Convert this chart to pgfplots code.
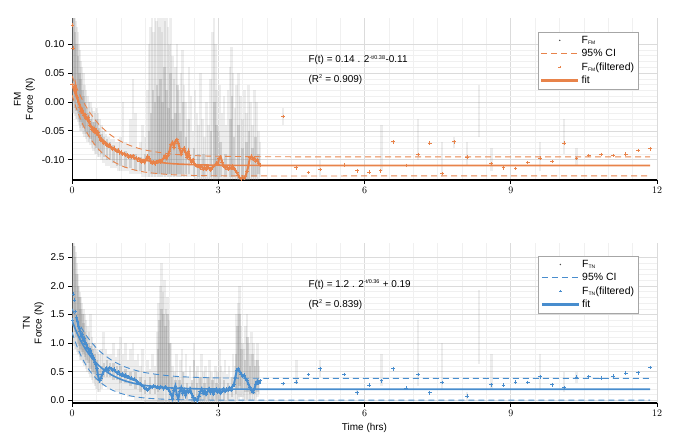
\documentclass[border=0pt]{standalone}
\usepackage{pgfplots}
\pgfplotsset{compat=1.18}
\usepackage{pgfplotstable}
\usepackage{fontspec}
\setmainfont{Liberation Sans}
\definecolor{orng}{RGB}{232,131,74}
\definecolor{blu}{RGB}{72,141,206}
\definecolor{raw}{RGB}{140,140,140}

% ---------- TOP (FM) ----------
\pgfplotstableread{
t lo hi
0.00 -0.02 0.145
0.02 -0.02 0.145
0.04 -0.02 0.145
0.06 -0.025 0.145
0.08 -0.03 0.14
0.10 -0.03 0.13
0.12 -0.035 0.12
0.14 -0.04 0.10
0.16 -0.045 0.09
0.18 -0.05 0.07
0.20 -0.05 0.06
0.23 -0.055 0.05
0.26 -0.06 0.03
0.29 -0.065 0.02
0.32 -0.07 0.01
0.35 -0.07 0.00
0.38 -0.075 0.0
0.41 -0.08 -0.01
0.44 -0.085 -0.015
0.47 -0.09 -0.02
0.50 -0.09 -0.01
0.53 -0.095 -0.02
0.56 -0.095 -0.03
0.60 -0.10 -0.04
0.65 -0.105 -0.05
0.70 -0.11 -0.055
0.75 -0.11 -0.06
0.80 -0.115 -0.065
0.85 -0.115 -0.065
0.90 -0.115 -0.07
0.95 -0.12 -0.07
1.00 -0.12 -0.06
1.05 -0.12 0.00
1.10 -0.12 -0.07
1.15 -0.12 -0.075
1.20 -0.125 -0.03
1.25 -0.125 0.04
1.30 -0.125 -0.02
1.35 -0.125 -0.08
1.40 -0.125 -0.07
1.45 -0.13 -0.04
1.50 -0.13 -0.06
1.55 -0.13 0.02
1.58 -0.13 0.10
1.61 -0.13 0.13
1.64 -0.13 0.145
1.67 -0.13 0.12
1.70 -0.13 0.145
1.73 -0.13 0.14
1.76 -0.13 0.145
1.79 -0.13 0.13
1.82 -0.13 0.145
1.85 -0.13 0.12
1.88 -0.13 0.145
1.91 -0.13 0.14
1.94 -0.13 0.145
1.97 -0.13 0.13
2.00 -0.13 0.10
2.03 -0.13 0.145
2.06 -0.13 0.08
2.09 -0.13 0.04
2.12 -0.13 0.06
2.15 -0.13 0.10
2.18 -0.13 0.02
2.21 -0.13 -0.02
2.24 -0.13 0.05
2.27 -0.13 0.09
2.30 -0.13 0.03
2.33 -0.13 0.00
2.36 -0.13 -0.03
2.40 -0.13 0.06
2.44 -0.13 0.01
2.48 -0.13 -0.05
2.52 -0.135 0.02
2.56 -0.135 -0.02
2.60 -0.135 -0.04
2.64 -0.135 0.05
2.68 -0.135 -0.03
2.72 -0.135 -0.06
2.76 -0.135 0.00
2.80 -0.135 -0.04
2.84 -0.135 0.04
2.88 -0.135 0.12
2.91 -0.135 0.145
2.94 -0.135 0.10
2.97 -0.135 0.02
3.00 -0.135 -0.05
3.04 -0.135 0.03
3.08 -0.135 -0.02
3.12 -0.135 0.01
3.16 -0.135 -0.04
3.20 -0.135 0.02
3.24 -0.135 0.06
3.27 -0.135 0.095
3.30 -0.135 0.05
3.34 -0.135 -0.01
3.38 -0.135 0.03
3.42 -0.135 0.05
3.46 -0.135 0.01
3.50 -0.135 -0.03
3.54 -0.135 0.02
3.58 -0.135 -0.02
3.62 -0.135 0.03
3.66 -0.135 0.00
3.70 -0.135 -0.04
3.74 -0.135 0.02
3.78 -0.135 0.00
3.82 -0.135 -0.05
3.86 -0.13 -0.07
4.33 -0.04 -0.01
5.09 -0.13 -0.10
6.35 -0.12 -0.04
7.10 -0.10 -0.03
7.59 -0.13 -0.07
7.84 -0.08 -0.06
8.10 -0.11 -0.07
8.35 -0.06 0.03
8.60 -0.12 -0.08
9.60 -0.12 -0.07
10.09 -0.09 -0.03
10.35 -0.11 -0.08
}\topfaint

\pgfplotstableread{
t lo hi
0.00 0.0 0.145
0.03 0.0 0.145
0.06 -0.01 0.12
0.09 -0.015 0.10
0.12 -0.02 0.08
0.15 -0.03 0.05
0.18 -0.035 0.04
0.21 -0.04 0.02
0.24 -0.045 0.01
0.27 -0.05 0.0
0.30 -0.055 -0.01
0.34 -0.06 -0.02
0.38 -0.065 -0.03
0.42 -0.07 -0.035
0.46 -0.075 -0.035
0.50 -0.08 -0.03
0.55 -0.085 -0.045
0.60 -0.09 -0.055
0.66 -0.095 -0.06
0.72 -0.10 -0.065
0.78 -0.10 -0.07
0.85 -0.105 -0.075
0.92 -0.11 -0.08
1.00 -0.11 -0.085
1.10 -0.115 -0.085
1.20 -0.115 -0.09
1.30 -0.12 -0.09
1.40 -0.12 -0.095
1.50 -0.12 -0.09
1.58 -0.12 -0.05
1.62 -0.125 -0.02
1.66 -0.125 0.02
1.70 -0.125 0.0
1.74 -0.125 0.03
1.78 -0.125 0.01
1.82 -0.125 0.04
1.86 -0.125 0.0
1.90 -0.125 0.06
1.94 -0.125 0.02
1.98 -0.125 -0.01
2.02 -0.125 0.05
2.06 -0.125 -0.03
2.12 -0.125 -0.02
2.16 -0.125 0.03
2.22 -0.125 -0.05
2.28 -0.125 0.0
2.34 -0.125 -0.06
2.40 -0.125 -0.03
2.50 -0.13 -0.08
2.60 -0.13 -0.09
2.70 -0.13 -0.09
2.85 -0.13 -0.05
2.92 -0.13 0.0
2.96 -0.13 -0.04
3.05 -0.13 -0.07
3.15 -0.13 -0.09
3.25 -0.13 -0.03
3.28 -0.13 0.01
3.32 -0.13 -0.06
3.42 -0.135 -0.04
3.50 -0.135 -0.08
3.58 -0.135 -0.07
3.63 -0.135 -0.05
3.70 -0.13 -0.08
3.76 -0.13 -0.06
3.82 -0.125 -0.09
}\topcore

\pgfplotstableread{
t y
0.00 0.030
0.01 0.133
0.02 0.093
0.03 0.025
0.05 0.020
0.07 0.028
0.09 0.012
0.11 0.008
0.13 0.000
0.15 -0.004
0.17 -0.010
0.19 -0.017
0.21 -0.014
0.23 -0.020
0.25 -0.024
0.27 -0.022
0.29 -0.028
0.31 -0.030
0.33 -0.027
0.35 -0.034
0.37 -0.040
0.39 -0.043
0.41 -0.047
0.43 -0.050
0.45 -0.046
0.47 -0.052
0.49 -0.049
0.51 -0.055
0.53 -0.052
0.55 -0.058
0.57 -0.062
0.59 -0.066
0.62 -0.068
0.65 -0.072
0.68 -0.070
0.71 -0.075
0.74 -0.077
0.77 -0.074
0.80 -0.079
0.83 -0.082
0.86 -0.080
0.89 -0.084
0.92 -0.086
0.95 -0.083
0.98 -0.088
1.01 -0.087
1.04 -0.090
1.07 -0.089
1.10 -0.093
1.13 -0.091
1.16 -0.095
1.19 -0.094
1.22 -0.096
1.25 -0.093
1.28 -0.098
1.31 -0.097
1.34 -0.100
1.37 -0.098
1.40 -0.102
1.43 -0.104
1.46 -0.101
1.49 -0.105
1.52 -0.099
1.55 -0.094
1.58 -0.097
1.61 -0.103
1.64 -0.106
1.67 -0.104
1.70 -0.107
1.73 -0.103
1.76 -0.105
1.79 -0.101
1.82 -0.104
1.85 -0.100
1.88 -0.097
1.91 -0.093
1.94 -0.098
1.97 -0.092
2.00 -0.085
2.03 -0.074
2.06 -0.070
2.09 -0.078
2.12 -0.068
2.15 -0.065
2.18 -0.072
2.21 -0.080
2.24 -0.090
2.27 -0.084
2.30 -0.080
2.33 -0.088
2.36 -0.095
2.39 -0.086
2.42 -0.099
2.45 -0.104
2.48 -0.100
2.51 -0.107
2.54 -0.109
2.57 -0.112
2.60 -0.110
2.63 -0.114
2.66 -0.111
2.69 -0.116
2.72 -0.113
2.75 -0.117
2.78 -0.112
2.81 -0.115
2.84 -0.118
2.87 -0.114
2.90 -0.112
2.93 -0.110
2.96 -0.106
2.99 -0.108
3.02 -0.097
3.05 -0.095
3.08 -0.104
3.11 -0.111
3.14 -0.114
3.17 -0.112
3.20 -0.116
3.23 -0.113
3.26 -0.115
3.29 -0.111
3.32 -0.116
3.35 -0.118
3.38 -0.122
3.41 -0.127
3.44 -0.131
3.47 -0.133
3.50 -0.130
3.53 -0.132
3.56 -0.128
3.59 -0.120
3.62 -0.110
3.65 -0.096
3.68 -0.094
3.71 -0.099
3.74 -0.097
3.77 -0.102
3.80 -0.100
3.83 -0.106
3.86 -0.109
4.33 -0.025
4.60 -0.114
4.85 -0.122
5.09 -0.117
5.58 -0.109
5.85 -0.119
6.09 -0.121
6.33 -0.119
6.59 -0.069
6.85 -0.110
7.10 -0.091
7.34 -0.071
7.59 -0.124
7.84 -0.069
8.10 -0.095
8.60 -0.107
8.85 -0.114
9.10 -0.115
9.35 -0.105
9.60 -0.097
9.85 -0.103
10.09 -0.071
10.35 -0.098
10.60 -0.093
10.85 -0.091
11.10 -0.093
11.36 -0.090
11.61 -0.084
11.86 -0.081
}\topfilt

\pgfplotstableread{
t fit up lo
0.0 0.0300 0.0450 0.0120
0.1 0.0066 0.0237 -0.0138
0.2 -0.0128 0.0057 -0.0349
0.3 -0.0290 -0.0096 -0.0521
0.4 -0.0425 -0.0226 -0.0661
0.5 -0.0538 -0.0337 -0.0775
0.6 -0.0632 -0.0430 -0.0868
0.8 -0.0775 -0.0576 -0.1006
1.0 -0.0874 -0.0681 -0.1098
1.2 -0.0943 -0.0757 -0.1158
1.5 -0.1009 -0.0832 -0.1214
2.0 -0.1064 -0.0898 -0.1256
2.5 -0.1085 -0.0928 -0.1272
3.0 -0.1094 -0.0940 -0.1277
4.0 -0.1099 -0.0948 -0.1280
6.0 -0.1100 -0.0950 -0.1280
11.86 -0.1100 -0.0950 -0.1280
}\topfit

% ---------- BOTTOM (TN) ----------
\pgfplotstableread{
t lo hi
0.00 1.0 2.75
0.02 1.0 2.75
0.04 0.95 2.75
0.06 0.9 2.7
0.08 0.9 2.6
0.10 0.85 2.4
0.12 0.8 2.2
0.14 0.8 2.0
0.16 0.75 1.9
0.18 0.7 1.8
0.20 0.7 1.7
0.23 0.65 1.6
0.26 0.6 1.5
0.29 0.55 1.4
0.32 0.5 1.3
0.35 0.45 1.2
0.38 0.4 1.5
0.41 0.35 1.1
0.44 0.3 1.0
0.47 0.25 1.0
0.50 0.2 0.9
0.53 0.15 0.85
0.56 0.15 0.8
0.60 0.2 0.9
0.65 0.25 1.2
0.70 0.25 0.9
0.75 0.2 0.8
0.80 0.2 0.8
0.85 0.2 1.0
0.90 0.15 0.75
0.95 0.15 0.9
1.00 0.1 1.1
1.05 0.1 0.8
1.10 0.1 1.0
1.15 0.05 0.7
1.20 0.05 0.9
1.25 0.05 1.0
1.30 0.0 0.7
1.35 0.0 0.8
1.40 0.0 0.6
1.45 0.0 0.9
1.50 -0.05 0.5
1.55 -0.05 0.7
1.60 -0.05 0.55
1.65 -0.05 0.8
1.70 -0.05 0.6
1.75 -0.05 1.2
1.78 -0.05 1.7
1.81 -0.05 2.0
1.84 -0.05 2.4
1.87 -0.05 1.9
1.90 -0.05 2.1
1.93 -0.05 1.6
1.96 -0.05 1.8
1.99 -0.05 1.4
2.02 -0.05 1.0
2.06 -0.05 0.6
2.10 -0.05 0.5
2.14 -0.05 0.8
2.18 -0.05 0.4
2.22 -0.05 0.7
2.26 -0.05 0.9
2.30 -0.05 0.5
2.34 -0.05 0.8
2.38 -0.05 0.4
2.42 -0.05 0.6
2.46 -0.05 0.3
2.50 -0.05 1.0
2.54 -0.05 0.5
2.58 -0.05 0.6
2.62 -0.05 0.4
2.66 -0.05 0.8
2.70 -0.05 0.5
2.74 -0.05 0.6
2.78 -0.05 0.4
2.82 -0.05 0.7
2.86 -0.05 0.5
2.90 -0.05 0.4
2.94 -0.05 0.6
2.98 -0.05 0.5
3.02 -0.05 0.9
3.06 -0.05 0.6
3.10 -0.05 0.5
3.14 -0.05 0.7
3.18 -0.05 0.45
3.22 -0.05 0.6
3.26 -0.05 0.4
3.30 -0.05 0.8
3.34 -0.05 0.6
3.38 0.0 1.5
3.41 0.0 1.7
3.44 0.05 2.0
3.47 0.05 1.3
3.50 0.05 1.0
3.53 0.0 0.9
3.56 0.0 1.3
3.59 0.0 1.5
3.62 0.0 1.0
3.65 0.0 0.8
3.68 0.0 1.2
3.72 0.0 1.0
3.76 0.0 0.7
3.80 0.05 1.0
3.84 0.1 0.6
4.33 0.25 0.30
4.60 0.28 0.70
5.09 0.40 0.70
5.85 0.10 0.20
6.35 0.25 0.80
7.10 0.25 1.40
7.59 0.17 1.00
8.10 0.00 0.15
8.35 0.64 1.92
8.60 0.20 0.80
9.60 0.20 0.80
10.09 0.15 0.50
10.35 0.30 0.50
}\botfaint

\pgfplotstableread{
t lo hi
0.00 1.3 2.75
0.03 1.3 2.7
0.06 1.2 2.5
0.09 1.1 2.2
0.12 1.0 2.0
0.15 0.95 1.8
0.18 0.9 1.6
0.21 0.85 1.5
0.24 0.8 1.35
0.27 0.75 1.2
0.30 0.7 1.1
0.34 0.65 1.0
0.38 0.55 0.95
0.42 0.5 0.9
0.46 0.45 0.8
0.50 0.35 0.7
0.55 0.3 0.55
0.60 0.35 0.6
0.66 0.4 0.65
0.72 0.4 0.7
0.78 0.4 0.65
0.85 0.35 0.65
0.92 0.35 0.6
1.00 0.3 0.6
1.10 0.3 0.55
1.20 0.25 0.5
1.30 0.2 0.5
1.40 0.15 0.4
1.50 0.1 0.35
1.60 0.1 0.4
1.70 0.1 0.45
1.76 0.15 0.9
1.80 0.2 1.4
1.84 0.2 1.6
1.88 0.2 1.5
1.92 0.2 1.3
1.96 0.2 1.5
2.00 0.15 1.0
2.05 0.0 0.4
2.12 0.0 0.35
2.20 0.0 0.35
2.28 0.0 0.5
2.36 0.0 0.3
2.46 -0.05 0.35
2.50 -0.05 0.7
2.56 -0.05 0.3
2.64 0.0 0.4
2.72 0.0 0.3
2.80 0.0 0.4
2.88 0.0 0.35
2.96 0.0 0.3
3.04 0.0 0.4
3.12 0.0 0.35
3.20 0.0 0.3
3.28 0.05 0.4
3.36 0.1 0.8
3.40 0.2 1.3
3.44 0.25 1.5
3.48 0.2 0.9
3.55 0.15 0.7
3.60 0.15 1.1
3.65 0.1 0.6
3.70 0.1 0.8
3.75 0.1 0.6
3.80 0.15 0.7
}\botcore

\pgfplotstableread{
t y
0.01 1.40
0.03 1.86
0.05 1.75
0.07 1.55
0.09 1.45
0.11 1.38
0.13 1.30
0.15 1.25
0.17 1.20
0.19 1.12
0.21 1.15
0.23 1.05
0.25 1.08
0.27 1.00
0.29 0.98
0.31 0.93
0.33 0.90
0.35 0.86
0.37 0.88
0.39 0.82
0.41 0.78
0.43 0.74
0.45 0.72
0.47 0.66
0.49 0.62
0.51 0.55
0.53 0.45
0.55 0.37
0.57 0.34
0.59 0.38
0.62 0.45
0.65 0.50
0.68 0.54
0.71 0.56
0.74 0.53
0.77 0.57
0.80 0.55
0.83 0.52
0.86 0.54
0.89 0.50
0.92 0.48
0.95 0.50
0.98 0.46
1.01 0.44
1.04 0.46
1.07 0.42
1.10 0.44
1.13 0.40
1.16 0.41
1.19 0.38
1.22 0.39
1.25 0.36
1.28 0.37
1.31 0.34
1.34 0.32
1.37 0.30
1.40 0.28
1.43 0.26
1.46 0.24
1.49 0.21
1.52 0.19
1.55 0.18
1.58 0.21
1.61 0.23
1.64 0.22
1.67 0.25
1.70 0.24
1.73 0.22
1.76 0.23
1.79 0.21
1.82 0.24
1.85 0.22
1.88 0.20
1.91 0.23
1.94 0.21
1.97 0.19
2.00 0.16
2.03 0.10
2.06 0.03
2.09 0.18
2.12 0.25
2.15 0.10
2.18 0.02
2.21 0.15
2.24 0.22
2.27 0.12
2.30 0.18
2.33 0.08
2.36 0.16
2.39 0.14
2.42 0.20
2.45 0.12
2.48 0.05
2.51 0.00
2.54 0.02
2.57 -0.01
2.60 0.06
2.63 0.15
2.66 0.20
2.69 0.12
2.72 0.17
2.75 0.10
2.78 0.15
2.81 0.20
2.84 0.13
2.87 0.17
2.90 0.11
2.93 0.16
2.96 0.19
2.99 0.14
3.02 0.18
3.05 0.12
3.08 0.16
3.11 0.20
3.14 0.15
3.17 0.19
3.20 0.17
3.23 0.22
3.26 0.18
3.29 0.24
3.32 0.27
3.35 0.40
3.38 0.52
3.41 0.55
3.44 0.50
3.47 0.46
3.50 0.42
3.53 0.44
3.56 0.38
3.59 0.34
3.62 0.28
3.65 0.22
3.68 0.17
3.71 0.14
3.74 0.20
3.77 0.28
3.80 0.33
3.83 0.30
3.86 0.34
4.33 0.29
4.60 0.32
4.85 0.45
5.09 0.55
5.58 0.45
5.85 0.13
6.09 0.26
6.35 0.34
6.59 0.55
6.85 0.21
7.10 0.45
7.34 0.13
7.59 0.31
7.84 -0.06
8.10 0.07
8.60 0.27
8.85 0.26
9.10 0.32
9.35 0.31
9.60 0.41
9.85 0.27
10.09 0.22
10.35 0.40
10.60 0.41
10.85 0.39
11.10 0.42
11.36 0.47
11.61 0.48
11.86 0.57
}\botfilt

\pgfplotstableread{
t fit up lo
0.0 1.390 1.600 1.190
0.1 1.180 1.415 0.945
0.2 1.006 1.257 0.750
0.3 0.863 1.124 0.595
0.4 0.746 1.011 0.472
0.5 0.648 0.914 0.375
0.6 0.568 0.833 0.298
0.8 0.447 0.706 0.187
1.0 0.365 0.614 0.118
1.2 0.309 0.548 0.074
1.5 0.257 0.482 0.037
2.0 0.215 0.425 0.012
2.5 0.200 0.400 0.004
3.0 0.194 0.389 0.001
4.0 0.1905 0.382 0.000
6.0 0.190 0.380 0.000
11.86 0.190 0.380 0.000
}\botfit

\pgfplotsset{
  myaxis/.style={
    scale only axis, width=585bp,
    xmin=0, xmax=12,
    axis x line*=bottom, axis y line*=left,
    x axis line style={line width=1.8pt},
    y axis line style={line width=0.8pt},
    xtick={0,3,6,9,12},
    minor x tick num=5,
    tick align=outside, major tick length=4bp, minor tick length=0pt,
    tick style={black, line width=0.7pt},
    grid=both,
    major grid style={gray!28, line width=0.6pt},
    minor grid style={gray!12, line width=0.4pt},
    tick label style={font=\fontsize{10}{12}\selectfont},
    label style={font=\fontsize{10}{12}\selectfont},
    ylabel style={align=center},
    legend cell align=left,
    legend style={anchor=north east,
      draw=gray!70, font=\fontsize{10.5}{12}\selectfont, inner sep=2pt, row sep=0.5pt},
    legend image code/.code={\draw[mark repeat=2,mark phase=2,##1] plot coordinates {(0cm,0cm) (0.65cm,0cm) (1.3cm,0cm)};},
    faint/.style={forget plot, draw=none, mark=none,
      error bars/.cd, y dir=plus, y explicit, error mark=none,
      error bar style={draw=raw, line width=2.6pt, opacity=0.16}},
    core/.style={forget plot, draw=none, mark=none,
      error bars/.cd, y dir=plus, y explicit, error mark=none,
      error bar style={draw=raw, line width=2.6pt, opacity=0.3}},
  }
}

\begin{document}
\begin{tikzpicture}
\path[use as bounding box] (0,0) rectangle (686bp,443bp);

% ---- top ----
\begin{axis}[myaxis, at={(72bp,263bp)}, anchor=south west, height=162bp,
  ymin=-0.135, ymax=0.145,
  ytick={-0.1,-0.05,0,0.05,0.1},
  yticklabels={-0.10,-0.05,0.00,0.05,0.10},
  minor y tick num=4,
  ylabel={FM\\Force (N)},
  legend style={at={(0.968,0.914)}}]
\addplot[faint] table[x=t, y=lo, y error plus expr=\thisrow{hi}-\thisrow{lo}] {\topfaint};
\addplot[core] table[x=t, y=lo, y error plus expr=\thisrow{hi}-\thisrow{lo}] {\topcore};
\addplot[forget plot, orng, line width=2pt, restrict x to domain=0.025:3.9] table[x=t, y=y] {\topfilt};
\addplot[forget plot, orng, line width=0.9pt, dash pattern=on 6bp off 4bp, smooth] table[x=t, y=up] {\topfit};
\addplot[forget plot, orng, line width=0.9pt, dash pattern=on 6bp off 4bp, smooth] table[x=t, y=lo] {\topfit};
\addplot[forget plot, orng, line width=1.6pt, smooth] table[x=t, y=fit] {\topfit};
\addplot[forget plot, only marks, mark=+, mark size=1.8pt, orng, line width=0.7pt] table[x=t, y=y] {\topfilt};
\addlegendimage{only marks, mark=*, mark size=0.5pt, draw=gray!60!black, fill=gray!60!black}
\addlegendentry{F\textsubscript{\fontsize{5}{5}\selectfont FM}}
\addlegendimage{draw=orng, color=orng, line width=1pt, dash pattern=on 6bp off 4bp}
\addlegendentry{95\% CI}
\addlegendimage{only marks, mark=+, mark size=1.3pt, draw=orng, color=orng}
\addlegendentry{F\textsubscript{\fontsize{5}{5}\selectfont FM}(filtered)}
\addlegendimage{draw=orng, color=orng, line width=3pt}
\addlegendentry{fit}
\node[anchor=west, font=\fontsize{10}{12}\selectfont] at (axis cs:4.78,0.072) {F(t) = 0.14 . 2\textsuperscript{\fontsize{5.5}{5}\selectfont -t/0.38}-0.11};
\node[anchor=west, font=\fontsize{10}{12}\selectfont] at (axis cs:4.78,0.038) {(R\textsuperscript{\fontsize{5.5}{5}\selectfont 2} = 0.909)};
\end{axis}

% ---- bottom ----
\begin{axis}[myaxis, at={(72bp,40bp)}, anchor=south west, height=160bp,
  ymin=-0.05, ymax=2.75,
  ytick={0,0.5,1,1.5,2,2.5},
  yticklabels={0.0,0.5,1.0,1.5,2.0,2.5},
  minor y tick num=4,
  ylabel={TN\\Force (N)},
  xlabel={Time (hrs)},
  legend style={at={(0.968,0.919)}}]
\addplot[faint] table[x=t, y=lo, y error plus expr=\thisrow{hi}-\thisrow{lo}] {\botfaint};
\addplot[core] table[x=t, y=lo, y error plus expr=\thisrow{hi}-\thisrow{lo}] {\botcore};
\addplot[forget plot, blu, line width=2pt, restrict x to domain=0.08:3.9] table[x=t, y=y] {\botfilt};
\addplot[forget plot, blu, line width=0.9pt, dash pattern=on 6bp off 4bp, smooth] table[x=t, y=up] {\botfit};
\addplot[forget plot, blu, line width=0.9pt, dash pattern=on 6bp off 4bp, smooth] table[x=t, y=lo] {\botfit};
\addplot[forget plot, blu, line width=1.6pt, smooth] table[x=t, y=fit] {\botfit};
\addplot[forget plot, only marks, mark=+, mark size=1.8pt, blu, line width=0.7pt] table[x=t, y=y] {\botfilt};
\addlegendimage{only marks, mark=*, mark size=0.5pt, draw=gray!60!black, fill=gray!60!black}
\addlegendentry{F\textsubscript{\fontsize{5}{5}\selectfont TN}}
\addlegendimage{draw=blu, color=blu, line width=1pt, dash pattern=on 6bp off 4bp}
\addlegendentry{95\% CI}
\addlegendimage{only marks, mark=+, mark size=1.3pt, draw=blu, color=blu}
\addlegendentry{F\textsubscript{\fontsize{5}{5}\selectfont TN}(filtered)}
\addlegendimage{draw=blu, color=blu, line width=3pt}
\addlegendentry{fit}
\node[anchor=west, font=\fontsize{10}{12}\selectfont] at (axis cs:4.78,2.02) {F(t) = 1.2 . 2\textsuperscript{\fontsize{5.5}{5}\selectfont -t/0.36} + 0.19};
\node[anchor=west, font=\fontsize{10}{12}\selectfont] at (axis cs:4.78,1.67) {(R\textsuperscript{\fontsize{5.5}{5}\selectfont 2} = 0.839)};
\end{axis}
\end{tikzpicture}
\end{document}
